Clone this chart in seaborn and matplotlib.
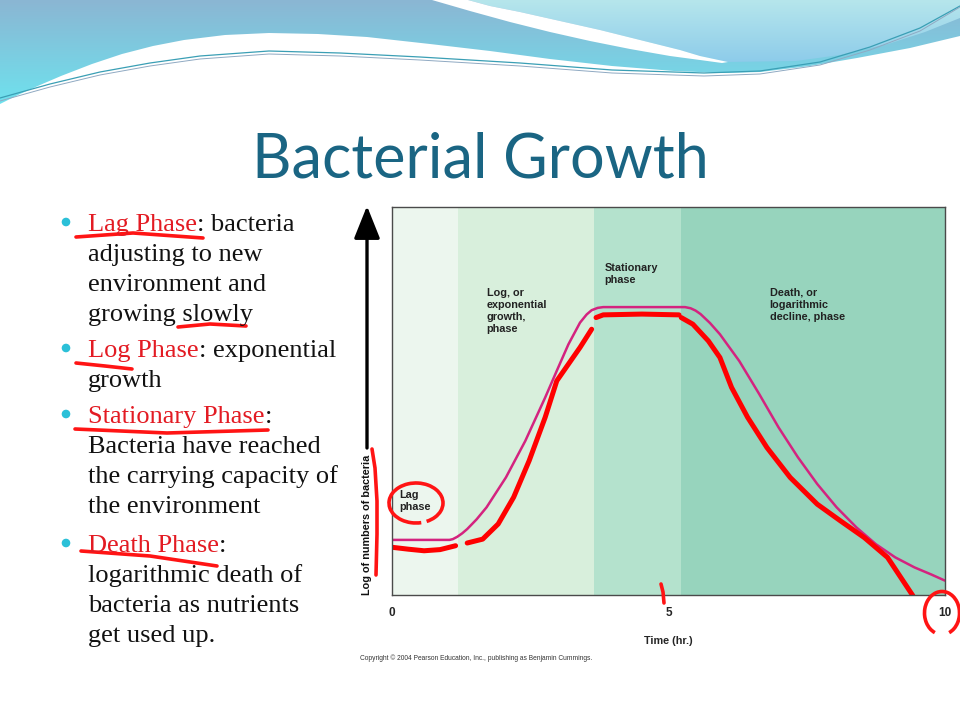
import numpy as np
import pandas as pd
import seaborn as sns
import matplotlib.pyplot as plt
from matplotlib.patches import Polygon, Arc, Circle
from matplotlib.colors import to_rgb

sns.set_theme(style="white")
plt.rcParams['font.family'] = ['Liberation Sans', 'DejaVu Sans']

## chart data
phase_edges = [0, 1.19, 3.65, 5.23, 10]
phase_colors = ['#ecf6ee', '#d8efdc', '#b4e2cd', '#97d4bd']
phase_labels = ['Lag\nphase', 'Log, or\nexponential\ngrowth,\nphase',
                'Stationary\nphase', 'Death, or\nlogarithmic\ndecline, phase']
label_x = [0.14, 1.71, 3.84, 6.83]
label_y = [2.70, 7.92, 8.55, 7.92]

# printed (magenta) growth curve
curve_time = [0, 1.04, 1.10, 1.18, 1.27, 1.36, 1.53, 1.71, 2.06, 2.41, 2.77, 2.98, 3.19, 3.40,
              3.52, 3.61, 3.72, 3.82, 5.30, 5.40, 5.49, 5.58, 5.75, 5.93, 6.28, 6.64, 6.99,
              7.34, 7.69, 8.04, 8.40, 8.75, 9.10, 9.45, 9.75, 10]
curve_log = [1.42, 1.42, 1.44, 1.50, 1.59, 1.70, 1.95, 2.26, 3.03, 3.97, 5.09, 5.78, 6.46, 7.02,
             7.23, 7.34, 7.40, 7.42, 7.42, 7.39, 7.33, 7.24, 7.01, 6.72, 6.03, 5.18, 4.32,
             3.55, 2.86, 2.26, 1.74, 1.31, 0.97, 0.71, 0.53, 0.37]

# hand-drawn red curve, four strokes
marked_time = [0, 0.30, 0.58, 0.87, 1.15,
               1.36, 1.64, 1.92, 2.20, 2.48, 2.77, 2.98, 3.19, 3.40, 3.61,
               3.69, 3.82, 4.52, 5.19,
               5.23, 5.44, 5.72, 5.93, 6.14, 6.43, 6.78, 7.20, 7.69, 8.11, 8.54, 8.96, 9.42]
marked_log = [1.23, 1.18, 1.14, 1.17, 1.27,
              1.34, 1.44, 1.83, 2.52, 3.46, 4.58, 5.52, 5.95, 6.38, 6.85,
              7.15, 7.22, 7.24, 7.22,
              7.15, 6.98, 6.55, 6.12, 5.35, 4.58, 3.80, 3.03, 2.34, 1.91, 1.48, 0.97, -0.02]
marked_seg = [1] * 5 + [2] * 10 + [3] * 4 + [4] * 13

x_ticks = [0, 5, 10]

## slide text
title = 'Bacterial Growth'
bullet_heads = ['Lag Phase', 'Log Phase', 'Stationary Phase', 'Death Phase']
bullet_first = [': bacteria', ': exponential', ':', ':']
bullet_rest = [['adjusting to new', 'environment and', 'growing slowly'],
               ['growth'],
               ['Bacteria have reached', 'the carrying capacity of', 'the environment'],
               ['logarithmic death of', 'bacteria as nutrients', 'get used up.']]
bullet_baseline = [231, 357, 423, 552]
line_gap = 30

fig = plt.figure(figsize=(9.6, 7.2), dpi=100)
fig.patch.set_facecolor('white')

## header waves (background)
bg = fig.add_axes([0, 0, 1, 1], zorder=0)
bg.set_xlim(0, 960)
bg.set_ylim(720, 0)
bg.axis('off')


def gradient(c1, c2, y0, y1):
    t = np.linspace(0, 1, 200)[:, None, None]
    img = (1 - t) * np.array(to_rgb(c1)) + t * np.array(to_rgb(c2))
    img = np.repeat(img, 2, axis=1)
    return bg.imshow(img, extent=[0, 960, y1, y0], aspect='auto', zorder=1)


xa = [0, 20, 40, 61, 92, 122, 153, 184, 225, 269, 318, 367, 430, 490, 550, 612, 674, 723, 760, 810, 857, 910, 960]
ya = [104, 94, 85, 76, 64, 54, 46, 40, 35, 33, 34, 37, 44, 51, 59, 66, 71, 73, 72, 66, 58, 48, 36]
band = Polygon(list(zip(xa, ya)) + [(960, 0), (0, 0)], closed=True, fc='none', ec='none')
bg.add_patch(band)
im = gradient('#8bb6d3', '#6ee2ee', 0, 105)
im.set_clip_path(band)

s1x = [432, 470, 510, 550, 590, 630, 670, 700, 722]
s1y = [0, 11, 22, 32, 41, 49, 56, 60, 63]
s2x = [728, 700, 680, 640, 600, 560, 520, 490, 468]
s2y = [62, 56, 50, 40, 30, 21, 12, 6, 0]
light = Polygon(list(zip(s2x, s2y)) + [(960, 0), (960, 18), (925, 32), (888, 44), (840, 55), (796, 61)],
                closed=True, fc='none', ec='none')
bg.add_patch(light)
im2 = gradient('#b6e6ec', '#8ccbea', 0, 64)
im2.set_clip_path(light)

swoosh = Polygon(list(zip(s1x, s1y)) + list(zip(s2x, s2y)), closed=True, fc='white', ec='none', zorder=2)
bg.add_patch(swoosh)

lx = [0, 50, 100, 150, 200, 269, 340, 420, 520, 612, 704, 760, 820, 870, 920, 960]
ly = [98, 84, 72, 63, 56, 51, 53, 57, 63, 70, 73, 71, 62, 47, 28, 6]
bg.plot(lx, ly, color='#3a9fb5', lw=0.9, zorder=3)
bg.plot(lx, [v + 3 if v > 20 else v + 1 for v in ly], color='#8fa9c2', lw=0.7, zorder=3)

## chart
ax = fig.add_axes([392 / 960, 1 - 595 / 720, 553 / 960, 388 / 720], zorder=1)
for i in range(len(phase_colors)):
    ax.axvspan(phase_edges[i], phase_edges[i + 1], color=phase_colors[i], lw=0, zorder=0)
    ax.text(label_x[i], label_y[i], phase_labels[i], ha='left', va='top', fontsize=7.8,
            fontweight='bold', color='#222222', linespacing=1.27)

sns.lineplot(x=curve_time, y=curve_log, color='#d4237f', lw=1.8, sort=False,
             estimator=None, ax=ax)
marked = pd.DataFrame({'time': marked_time, 'log': marked_log, 'seg': marked_seg})
sns.lineplot(data=marked, x='time', y='log', units='seg', estimator=None, sort=False,
             color='#ff0000', lw=3.6, ax=ax)

ax.set_xlim(0, 10)
ax.set_ylim(0, 10)
ax.set_xticks(x_ticks)
ax.set_xticklabels([str(t) for t in x_ticks], fontsize=8.5, fontweight='bold')
ax.set_yticks([])
ax.tick_params(axis='x', length=0, pad=9)
ax.set_xlabel('Time (hr.)', fontsize=7.8, fontweight='bold', labelpad=12)
ax.set_ylabel('')
for s in ax.spines.values():
    s.set_color('#4a4a4a')
    s.set_linewidth(1)

## slide overlay (title, bullets, axis arrow, pen marks)
sl = fig.add_axes([0, 0, 1, 1], zorder=3)
sl.set_xlim(0, 960)
sl.set_ylim(720, 0)
sl.axis('off')
sl.patch.set_alpha(0)

sl.text(480, 177, title, ha='center', va='baseline', fontsize=44, color='#1a6583', family='Lato')

renderer = fig.canvas.get_renderer()
for i, head in enumerate(bullet_heads):
    y = bullet_baseline[i]
    sl.add_patch(Circle((66, y - 9), 3.6, color='#2bc0d8'))
    t = sl.text(88, y, head, fontsize=19, color='#e31b23', va='baseline', family='Liberation Serif')
    w = t.get_window_extent(renderer=renderer).width
    sl.text(88 + w, y, bullet_first[i], fontsize=19, color='#111111', va='baseline', family='Liberation Serif')
    for j, line in enumerate(bullet_rest[i]):
        sl.text(88, y + line_gap * (j + 1), line, fontsize=19, color='#111111', va='baseline',
                family='Liberation Serif')

# y axis arrow and label
sl.annotate('', xy=(367, 206), xytext=(367, 448),
            arrowprops=dict(arrowstyle='-|>,head_length=1.0,head_width=0.4', color='black',
                            lw=2.4, mutation_scale=20, shrinkA=0, shrinkB=0))
sl.text(367, 595, 'Log of numbers of bacteria', rotation=90, ha='center', va='bottom',
        fontsize=7.8, fontweight='bold', color='#111111')
sl.text(360, 658, 'Copyright \u00a9 2004 Pearson Education, Inc., publishing as Benjamin Cummings.',
        fontsize=4.8, color='#333333', va='center')

# red pen marks
pen = dict(color='#ff1414', lw=2.6, solid_capstyle='round')
sl.plot([76, 133, 203], [237, 233, 238], **pen)
sl.plot([178, 210, 246], [327, 324, 326], **pen)
sl.plot([76, 105, 132], [363, 366, 369], **pen)
sl.plot([75, 167, 268], [429, 433, 430], **pen)
sl.plot([81, 150, 217], [551, 556, 566], **pen)
sl.plot([372, 375, 377, 377, 376], [449, 468, 501, 534, 575], **pen)
sl.plot([661, 663, 664], [584, 592, 603], **pen)
sl.add_patch(Arc((416, 503), 54, 40, theta1=75, theta2=420, color='#ff1414', lw=2.6))
sl.add_patch(Arc((942, 613), 35, 43, theta1=110, theta2=430, color='#ff1414', lw=2.6))

fig.savefig('out.png', dpi=100)
